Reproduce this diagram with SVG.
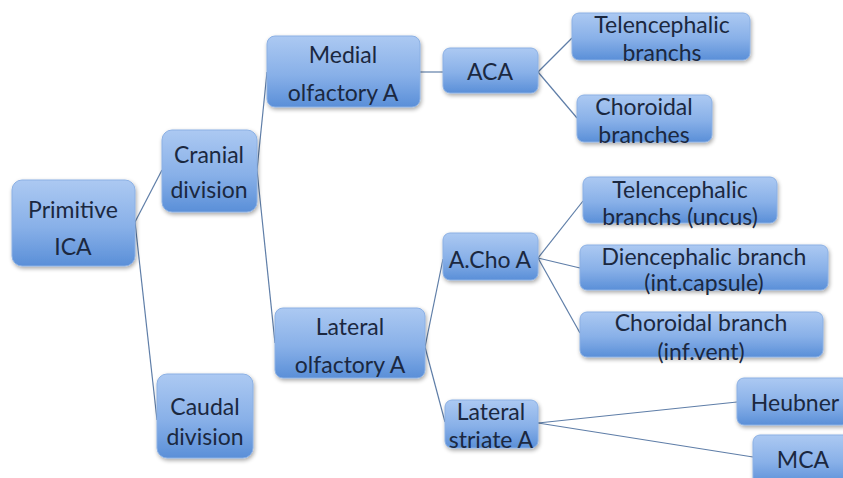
<svg xmlns="http://www.w3.org/2000/svg" width="843" height="478" viewBox="0 0 843 478">
<defs>
<linearGradient id="g" x1="0" y1="0" x2="0" y2="1">
<stop offset="0" stop-color="#acc9f2"/>
<stop offset="0.55" stop-color="#88b0e8"/>
<stop offset="1" stop-color="#5a8fd8"/>
</linearGradient>
<filter id="sh" x="-10%" y="-10%" width="130%" height="140%">
<feGaussianBlur in="SourceAlpha" stdDeviation="2"/>
<feOffset dx="1" dy="2" result="b"/>
<feComponentTransfer><feFuncA type="linear" slope="0.35"/></feComponentTransfer>
<feMerge><feMergeNode/><feMergeNode in="SourceGraphic"/></feMerge>
</filter>
</defs>
<style>
.n rect{fill:url(#g);stroke:#8bb0e4;stroke-width:1;filter:url(#sh)}
.n text{font-family:Lato,"Open Sans",sans-serif;font-size:23px;fill:#1b2840;text-anchor:middle}
.c line{stroke:#5f7ea8;stroke-width:1.2}
</style>
<rect width="843" height="478" fill="#ffffff"/>
<g class="c">
<line x1="135" y1="222" x2="162" y2="170"/>
<line x1="135" y1="222" x2="157" y2="420"/>
<line x1="257" y1="170" x2="267" y2="72"/>
<line x1="257" y1="170" x2="275" y2="343"/>
<line x1="420" y1="72" x2="443" y2="72"/>
<line x1="538" y1="72" x2="572" y2="38"/>
<line x1="538" y1="72" x2="577" y2="118"/>
<line x1="425" y1="347" x2="443" y2="259"/>
<line x1="425" y1="347" x2="445" y2="422"/>
<line x1="538" y1="258" x2="583" y2="201"/>
<line x1="538" y1="258" x2="580" y2="268"/>
<line x1="538" y1="258" x2="580" y2="333"/>
<line x1="538" y1="423" x2="737" y2="402"/>
<line x1="538" y1="423" x2="753" y2="457"/>
</g>
<g id="primitive-ica" class="n"><rect x="12" y="180" width="123" height="86" rx="10"/><text x="73" y="218">Primitive</text><text x="73" y="255">ICA</text></g>
<g id="cranial" class="n"><rect x="162" y="130" width="95" height="82" rx="10"/><text x="209" y="163">Cranial</text><text x="209" y="198">division</text></g>
<g id="caudal" class="n"><rect x="157" y="374" width="96" height="84" rx="10"/><text x="205" y="415">Caudal</text><text x="205" y="445">division</text></g>
<g id="medial-olf" class="n"><rect x="267" y="36" width="153" height="71" rx="8"/><text x="343" y="63">Medial</text><text x="343" y="101">olfactory A</text></g>
<g id="aca" class="n"><rect x="443" y="48" width="95" height="45" rx="7"/><text x="490" y="80">ACA</text></g>
<g id="tel1" class="n"><rect x="572" y="13" width="178" height="47" rx="7"/><text x="662" y="33">Telencephalic</text><text x="662" y="61">branchs</text></g>
<g id="chor1" class="n"><rect x="577" y="95" width="135" height="47" rx="7"/><text x="644" y="115">Choroidal</text><text x="644" y="143">branches</text></g>
<g id="lateral-olf" class="n"><rect x="275" y="308" width="150" height="70" rx="8"/><text x="350" y="335">Lateral</text><text x="350" y="373">olfactory A</text></g>
<g id="acho" class="n"><rect x="443" y="233" width="95" height="47" rx="7"/><text x="490" y="268">A.Cho A</text></g>
<g id="tel2" class="n"><rect x="583" y="177" width="194" height="46" rx="7"/><text x="680" y="198">Telencephalic</text><text x="680" y="225">branchs (uncus)</text></g>
<g id="dien" class="n"><rect x="580" y="245" width="248" height="45" rx="7"/><text x="704" y="265">Diencephalic branch</text><text x="704" y="291">(int.capsule)</text></g>
<g id="chor2" class="n"><rect x="580" y="312" width="243" height="45" rx="7"/><text x="701" y="331">Choroidal branch</text><text x="701" y="360">(inf.vent)</text></g>
<g id="lat-striate" class="n"><rect x="445" y="400" width="93" height="48" rx="7"/><text x="491" y="420">Lateral</text><text x="491" y="448">striate A</text></g>
<g id="heubner" class="n"><rect x="737" y="378" width="112" height="47" rx="7"/><text x="795" y="411">Heubner</text></g>
<g id="mca" class="n"><rect x="753" y="435" width="100" height="50" rx="7"/><text x="803" y="468">MCA</text></g>
</svg>
